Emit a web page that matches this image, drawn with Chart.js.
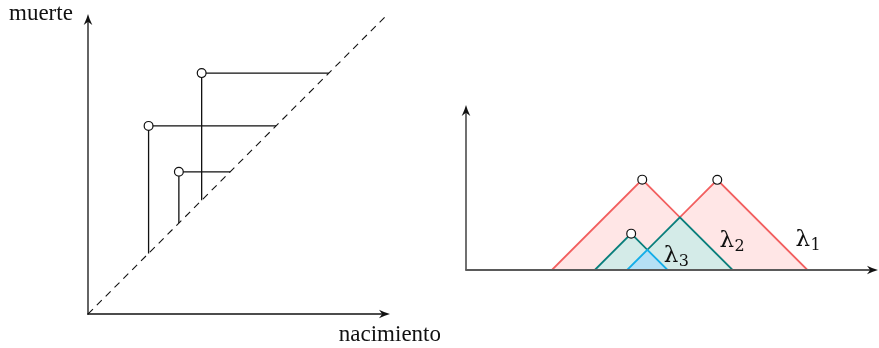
<!DOCTYPE html>
<html>
<head>
<meta charset="utf-8">
<script src="https://cdn.jsdelivr.net/npm/chart.js@4.4.1/dist/chart.umd.min.js"></script>
<style>
  html, body { margin: 0; padding: 0; background: #ffffff; }
  #wrap { position: relative; width: 879px; height: 348px; }
  .pane { position: absolute; top: 0; }
</style>
</head>
<body>
<div id="wrap">
  <div class="pane" style="left:0;width:440px;height:348px"><canvas id="diagram"></canvas></div>
  <div class="pane" style="left:440px;width:439px;height:348px"><canvas id="landscape"></canvas></div>
</div>
<script>
// Persistence diagram: (birth, death) pairs
const births = [2.02, 3.79, 3.03];
const deaths = [6.27, 8.03, 4.74];

// Persistence landscape functions (vertices)
const lambda1X = [2.02, 4.145, 5.03, 5.91, 8.03];
const lambda1Y = [0, 2.125, 1.24, 2.12, 0];
const lambda2X = [3.03, 3.885, 4.265, 5.03, 6.27];
const lambda2Y = [0, 0.855, 0.475, 1.24, 0];
const lambda3X = [3.79, 4.265, 4.74];
const lambda3Y = [0, 0.475, 0];

// Tent peaks
const peakX = [4.145, 5.91, 3.885];
const peakY = [2.125, 2.12, 0.855];

// Axis labels
const xAxisLabel = 'nacimiento';
const yAxisLabel = 'muerte';
const landscapeLabels = ['1', '2', '3'];

const SERIF = '"Liberation Serif", "DejaVu Serif", serif';

function pts(xs, ys) { return xs.map((x, i) => ({ x: x, y: ys[i] })); }

function arrowHead(ctx, x, y, angle, color) {
  const L = 11, W = 4.3, notch = 7.8;
  ctx.save();
  ctx.translate(x, y);
  ctx.rotate(angle);
  ctx.fillStyle = color;
  ctx.beginPath();
  ctx.moveTo(0, 0);
  ctx.quadraticCurveTo(-L * 0.45, -W * 0.3, -L, -W);
  ctx.lineTo(-notch, 0);
  ctx.lineTo(-L, W);
  ctx.quadraticCurveTo(-L * 0.45, W * 0.3, 0, 0);
  ctx.closePath();
  ctx.fill();
  ctx.restore();
}

// Draws the two arrowed axes from the origin to the end of each scale
function axesPlugin(opts) {
  return {
    id: 'arrowAxes',
    afterDatasetsDraw(chart) {
      const ctx = chart.ctx, xs = chart.scales.x, ys = chart.scales.y;
      const ox = xs.getPixelForValue(0), oy = ys.getPixelForValue(0);
      const xe = xs.getPixelForValue(xs.max), ye = ys.getPixelForValue(ys.max);
      ctx.save();
      ctx.lineCap = 'butt';
      // y axis
      ctx.strokeStyle = opts.yColor; ctx.lineWidth = opts.yWidth;
      ctx.beginPath(); ctx.moveTo(ox, oy + opts.yWidth / 2); ctx.lineTo(ox, ye + 6); ctx.stroke();
      arrowHead(ctx, ox, ye, -Math.PI / 2, opts.yColor);
      // x axis
      ctx.strokeStyle = opts.xColor; ctx.lineWidth = opts.xWidth;
      ctx.beginPath(); ctx.moveTo(ox - opts.yWidth / 2, oy); ctx.lineTo(xe - 6, oy); ctx.stroke();
      arrowHead(ctx, xe, oy, 0, opts.xHeadColor || opts.xColor);
      ctx.restore();
      if (opts.after) opts.after(chart);
    }
  };
}

// ---------- Left: persistence diagram ----------
const diagSegments = [];
births.forEach((b, i) => {
  const d = deaths[i];
  diagSegments.push({
    data: [{ x: b, y: b }, { x: b, y: d }, { x: d, y: d }],
    borderColor: '#111111', borderWidth: 1.3, showLine: true, pointRadius: 0,
    fill: false, tension: 0, order: 2
  });
});

new Chart(document.getElementById('diagram'), {
  type: 'scatter',
  data: {
    datasets: [
      {
        data: [{ x: 0, y: 0 }, { x: 9.95, y: 9.95 }],
        borderColor: '#111111', borderWidth: 1.1, borderDash: [7, 5.5],
        showLine: true, pointRadius: 0, fill: false, order: 3
      },
      ...diagSegments,
      {
        data: pts(births, deaths),
        showLine: false, pointRadius: 4.4, pointBorderWidth: 1.2,
        pointBackgroundColor: '#ffffff', pointBorderColor: '#111111', order: 0
      }
    ]
  },
  options: {
    responsive: true, maintainAspectRatio: false, animation: false,
    layout: { autoPadding: false, padding: { left: 88, top: 14, right: 50, bottom: 34 } },
    plugins: { legend: { display: false }, tooltip: { enabled: false } },
    scales: {
      x: { type: 'linear', min: 0, max: 10.07, display: false },
      y: { type: 'linear', min: 0, max: 10.0, display: false }
    }
  },
  plugins: [axesPlugin({
    xColor: '#111111', yColor: '#111111', xWidth: 1.3, yWidth: 1.3,
    after(chart) {
      const ctx = chart.ctx;
      ctx.save();
      ctx.fillStyle = '#111111';
      ctx.font = '23px ' + SERIF;
      ctx.textBaseline = 'alphabetic';
      ctx.textAlign = 'left';
      ctx.fillText(yAxisLabel, 9, 20);
      ctx.textAlign = 'right';
      ctx.fillText(xAxisLabel, 441, 341);
      ctx.restore();
    }
  })]
});

// ---------- Right: persistence landscape ----------
const RED = '#f25f5f', PINK = '#ffe6e6';
const TEAL = '#0a7f7c', TEAL_FILL = '#d4ebe8';
const BLUE = '#14aee8', BLUE_FILL = '#b5e0f5';

function landscapeSet(xs, ys, line, fillColor, order) {
  return {
    data: pts(xs, ys), showLine: true, tension: 0,
    borderColor: line, borderWidth: 1.8, backgroundColor: fillColor,
    fill: 'origin', pointRadius: 0, order: order
  };
}

new Chart(document.getElementById('landscape'), {
  type: 'scatter',
  data: {
    datasets: [
      landscapeSet(lambda1X, lambda1Y, RED, PINK, 5),
      landscapeSet(lambda2X, lambda2Y, TEAL, TEAL_FILL, 4),
      landscapeSet(lambda3X, lambda3Y, BLUE, BLUE_FILL, 3),
      {
        data: pts(peakX, peakY), showLine: false,
        pointRadius: 4.4, pointBorderWidth: 1.2,
        pointBackgroundColor: '#ffffff', pointBorderColor: '#111111', order: 0
      }
    ]
  },
  options: {
    responsive: true, maintainAspectRatio: false, animation: false,
    layout: { autoPadding: false, padding: { left: 26, top: 105, right: 1, bottom: 78 } },
    plugins: { legend: { display: false }, tooltip: { enabled: false } },
    scales: {
      x: { type: 'linear', min: 0, max: 9.69, display: false },
      y: { type: 'linear', min: 0, max: 3.88, display: false }
    }
  },
  plugins: [axesPlugin({
    xColor: '#5a5a5a', xHeadColor: '#111111', yColor: '#111111', xWidth: 1.8, yWidth: 1.2,
    after(chart) {
      const ctx = chart.ctx, xs = chart.scales.x, ys = chart.scales.y;
      // label anchors in data coordinates, next to each landscape
      const anchors = [[7.75, 0.56], [5.96, 0.55], [4.65, 0.19]];
      ctx.save();
      ctx.fillStyle = '#111111';
      ctx.textBaseline = 'alphabetic';
      ctx.textAlign = 'left';
      anchors.forEach((a, i) => {
        const px = xs.getPixelForValue(a[0]), py = ys.getPixelForValue(a[1]);
        ctx.font = '23px "DejaVu Serif", serif';
        ctx.fillText('\u03bb', px, py);
        const w = ctx.measureText('\u03bb').width;
        ctx.font = '16px "DejaVu Serif", serif';
        ctx.fillText(landscapeLabels[i], px + w + 0.5, py + 4);
      });
      ctx.restore();
    }
  })]
});
</script>
</body>
</html>
